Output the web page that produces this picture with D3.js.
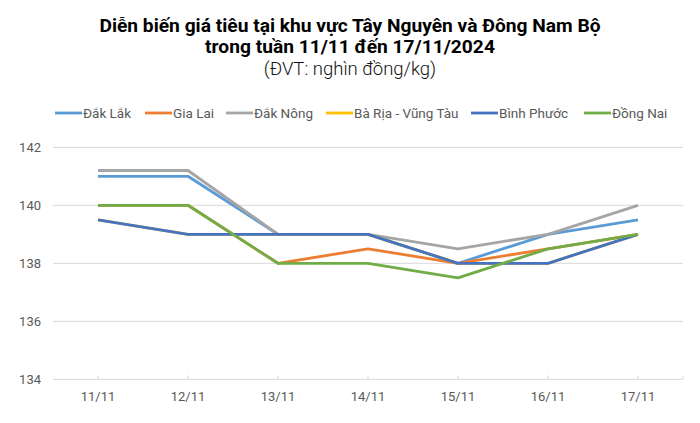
<!DOCTYPE html>
<html><head><meta charset="utf-8">
<script src="https://cdn.jsdelivr.net/npm/d3@7/dist/d3.min.js"></script>
<style>body{margin:0;background:#fff}svg{display:block;font-family:Roboto,sans-serif}</style>
</head><body><svg id="c" width="700" height="423"></svg>
<script>
const categories = ["11/11","12/11","13/11","14/11","15/11","16/11","17/11"];
const seriesNames = ["Đắk Lắk","Gia Lai","Đắk Nông","Bà Rịa - Vũng Tàu","Bình Phước","Đồng Nai"];
const dakLak   = [141, 141, 139, 139, 138, 139, 139.5];
const giaLai   = [140, 140, 138, 138.5, 138, 138.5, 139];
const dakNong  = [141.2, 141.2, 139, 139, 138.5, 139, 140];
const baRia    = [139.5, 139, 139, 139, 138, 138, 139];
const binhPhuoc= [139.5, 139, 139, 139, 138, 138, 139];
const dongNai  = [140, 140, 138, 138, 137.5, 138.5, 139];
const yTicks = [134, 136, 138, 140, 142];
const colors = ["#5B9BD5","#ED7D31","#A5A5A5","#FFC000","#4472C4","#70AD47"];
const values = [dakLak, giaLai, dakNong, baRia, binhPhuoc, dongNai];

const svg = d3.select("#c");
const L = 53, R = 683, T = 147.3, B = 379.3;
const x = d3.scaleBand().domain(categories).range([L, R]);
const y = d3.scaleLinear().domain([134, 142]).range([B, T]);
const cx = c => x(c) + x.bandwidth()/2;

// titles
svg.append("text").attr("x",350).attr("y",31.5).attr("text-anchor","middle")
  .attr("font-weight","bold").attr("font-size",19.2).attr("fill","#000")
  .text("Diễn biến giá tiêu tại khu vực Tây Nguyên và Đông Nam Bộ");
svg.append("text").attr("x",350).attr("y",52.5).attr("text-anchor","middle")
  .attr("font-weight","bold").attr("font-size",19.2).attr("fill","#000")
  .text("trong tuần 11/11 đến 17/11/2024");
svg.append("text").attr("x",350).attr("y",74.5).attr("text-anchor","middle")
  .attr("font-size",18.5).attr("font-weight",300).attr("fill","#111")
  .text("(ĐVT: nghìn đồng/kg)");

// grid
svg.append("g").selectAll("line").data(yTicks).join("line")
  .attr("x1",L).attr("x2",R).attr("y1",d=>y(d)).attr("y2",d=>y(d))
  .attr("stroke","#d9d9d9").attr("stroke-width",1);
// y labels
svg.append("g").selectAll("text").data(yTicks).join("text")
  .attr("x",41).attr("y",d=>y(d)).attr("dy","0.35em").attr("text-anchor","end")
  .attr("font-size",13).attr("fill","#595959").text(d=>d);
// x ticks
const tickPos = categories.map(cx).concat([R]);
svg.append("g").selectAll("line").data(tickPos).join("line")
  .attr("x1",d=>d).attr("x2",d=>d).attr("y1",B-4).attr("y2",B)
  .attr("stroke","#d9d9d9");
svg.append("g").selectAll("text").data(categories).join("text")
  .attr("x",d=>cx(d)).attr("y",B+22).attr("text-anchor","middle")
  .attr("font-size",13).attr("fill","#595959").text(d=>d);

// lines
const line = d3.line().x((d,i)=>cx(categories[i])).y(d=>y(d));
svg.append("g").selectAll("path").data(values).join("path")
  .attr("d",d=>line(d)).attr("fill","none")
  .attr("stroke",(d,i)=>colors[i]).attr("stroke-width",2.8)
  .attr("stroke-linejoin","round");

// legend
const legX = [55, 145, 226, 326, 471, 584];
const lg = svg.append("g").selectAll("g").data(seriesNames).join("g")
  .attr("transform",(d,i)=>`translate(${legX[i]},113)`);
lg.append("line").attr("x1",0).attr("x2",27).attr("stroke",(d,i)=>colors[i]).attr("stroke-width",2.8);
lg.append("text").attr("x",28).attr("dy","0.35em").attr("font-size",13.5).attr("fill","#595959").text(d=>d);
</script></body></html>
